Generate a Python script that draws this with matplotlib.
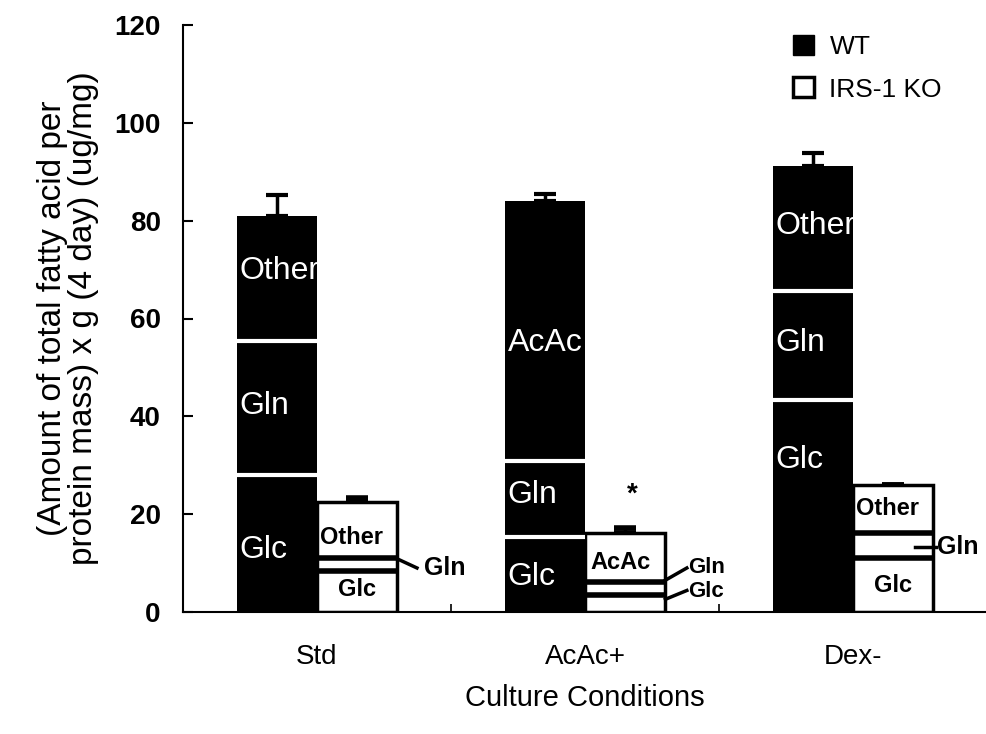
import numpy as np
import matplotlib
matplotlib.use('Agg')
import matplotlib.pyplot as plt
from matplotlib.patches import Patch

plt.rcParams['font.family'] = ['Liberation Sans', 'DejaVu Sans']

# datos (ug/mg)
condiciones = ['Std', 'AcAc+', 'Dex-']
tercer_seg = ['Other', 'AcAc', 'Other']

wt_glc = [28.0, 15.3, 43.3]
wt_gln = [27.5, 15.5, 22.4]
wt_otro = [25.5, 53.2, 25.5]
wt_err = [4.3, 1.5, 2.7]

ko_glc = [8.4, 3.5, 11.0]
ko_gln = [2.6, 2.6, 5.1]
ko_otro = [11.4, 10.0, 9.9]
ko_err = [0.9, 1.0, 0.0]

x = np.arange(len(condiciones))
w = 0.3

fig = plt.figure(figsize=(9.87, 7.34), dpi=100)
ax = fig.add_axes([183/987, 1 - 612/734, 804/987, 587/734])

# WT: barras negras apiladas con separadores blancos
wt_glc = np.array(wt_glc)
wt_gln = np.array(wt_gln)
wt_otro = np.array(wt_otro)
b1 = wt_glc
b2 = wt_glc + wt_gln
wt_total = b2 + wt_otro
barras_wt = ax.bar(x - w/2, wt_total, w, color='black', linewidth=0, zorder=2)
ax.hlines(b1, x - w, x, colors='white', lw=3, zorder=3)
ax.hlines(b2, x - w, x, colors='white', lw=3, zorder=3)
ax.errorbar(x - w/2, wt_total, yerr=[np.zeros(3), wt_err], fmt='none',
            ecolor='black', elinewidth=2.5, capsize=8, capthick=3, zorder=1)

# KO: barras blancas con borde negro
ko_glc = np.array(ko_glc)
ko_gln = np.array(ko_gln)
ko_otro = np.array(ko_otro)
k1 = ko_glc
k2 = ko_glc + ko_gln
ko_total = k2 + ko_otro
ax.errorbar(x + w/2, ko_total, yerr=[np.zeros(3), ko_err], fmt='none',
            ecolor='black', elinewidth=2.5, capsize=8, capthick=4, zorder=1)
ax.bar(x + w/2, ko_total, w, facecolor='white', edgecolor='black', linewidth=2.5, zorder=2)
ax.hlines(k1, x, x + w, colors='black', lw=4, zorder=3)
ax.hlines(k2, x, x + w, colors='black', lw=4, zorder=3)

# etiquetas dentro de las barras WT
wt_label_y = [[12.7, 42.2, 69.8], [7.1, 24.0, 55.0], [31.0, 55.0, 79.0]]
for i in range(3):
    nombres = ['Glc', 'Gln', tercer_seg[i]]
    for j in range(3):
        t = ax.text(x[i] - w + 0.012, wt_label_y[i][j], nombres[j], color='white',
                    fontsize=23, ha='left', va='center', zorder=4)
        t.set_clip_path(barras_wt[i])

# etiquetas de las barras KO
ax.text(x[0] + 0.012, 15.3, 'Other', fontsize=17, fontweight='bold', ha='left', va='center', zorder=4)
ax.text(x[0] + w/2, 4.5, 'Glc', fontsize=17, fontweight='bold', ha='center', va='center', zorder=4)
ax.text(x[1] + 0.02, 10.2, 'AcAc', fontsize=17, fontweight='bold', ha='left', va='center', zorder=4)
ax.text(x[2] + 0.012, 21.2, 'Other', fontsize=17, fontweight='bold', ha='left', va='center', zorder=4)
ax.text(x[2] + w/2, 5.5, 'Glc', fontsize=17, fontweight='bold', ha='center', va='center', zorder=4)

# lineas de señalamiento
ax.plot([x[0] + 0.302, x[0] + 0.373], [10.8, 9.0], color='black', lw=2.5, clip_on=False)
ax.text(x[0] + 0.40, 9.0, 'Gln', fontsize=18, fontweight='bold', ha='left', va='center')
ax.plot([x[1] + 0.30, x[1] + 0.38], [6.5, 9.0], color='black', lw=2.5, clip_on=False)
ax.text(x[1] + 0.383, 9.0, 'Gln', fontsize=16, fontweight='bold', ha='left', va='center')
ax.plot([x[1] + 0.30, x[1] + 0.38], [2.6, 4.4], color='black', lw=2.5, clip_on=False)
ax.text(x[1] + 0.383, 4.2, 'Glc', fontsize=16, fontweight='bold', ha='left', va='center')
ax.plot([x[2] + 0.23, x[2] + 0.31], [13.3, 13.3], color='black', lw=2.5, zorder=4, clip_on=False)
ax.text(x[2] + 0.315, 13.3, 'Gln', fontsize=18, fontweight='bold', ha='left', va='center')

# asterisco
ax.text(x[1] + 0.175, 24.0, '*', fontsize=20, fontweight='bold', ha='center', va='center')

# ejes
ax.set_xlim(-0.5, 2.5)
ax.set_ylim(0, 120)
ax.set_yticks(np.arange(0, 121, 20))
ax.tick_params(axis='y', direction='in', length=7, width=1.5, pad=16, labelsize=20)
for lab in ax.get_yticklabels():
    lab.set_fontweight('bold')
ax.set_xticks(x)
ax.set_xticklabels(condiciones, fontsize=20)
ax.tick_params(axis='x', length=0, pad=23)
ax.set_xticks([0.5, 1.5], minor=True)
ax.tick_params(axis='x', which='minor', direction='in', length=6, width=1.2)
for s in ['top', 'right']:
    ax.spines[s].set_visible(False)
ax.spines['left'].set_linewidth(1.5)
ax.spines['bottom'].set_linewidth(1.5)

ax.set_xlabel('Culture Conditions', fontsize=21, labelpad=10)
ax.set_ylabel('(Amount of total fatty acid per\nprotein mass) x g (4 day) (ug/mg)', fontsize=24,
              linespacing=1.0)
ax.yaxis.set_label_coords(-0.105, 0.5)

manejadores = [Patch(facecolor='black', edgecolor='black'),
               Patch(facecolor='white', edgecolor='black', linewidth=2.5)]
ax.legend(manejadores, ['WT', 'IRS-1 KO'], loc='upper left', bbox_to_anchor=(782/987, 1 - 24/734),
          bbox_transform=fig.transFigure, frameon=False, fontsize=19, handlelength=0.8,
          handleheight=0.8, handletextpad=0.6, labelspacing=0.7, borderaxespad=0)

plt.savefig('out.png', dpi=100)
plt.close()
